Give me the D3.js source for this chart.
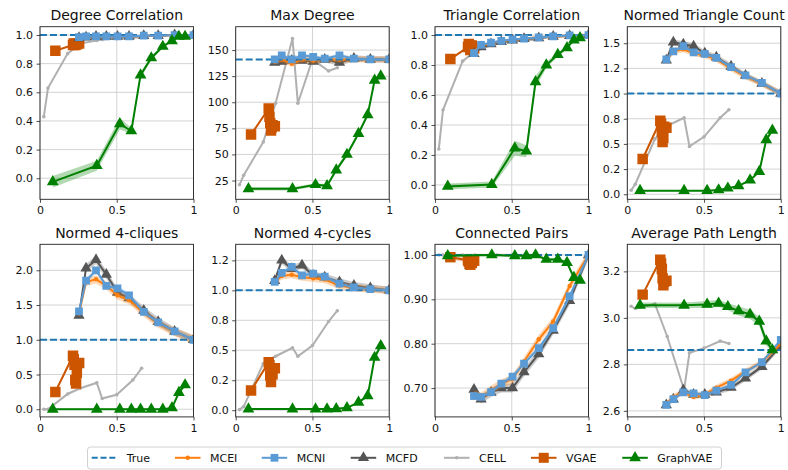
<!DOCTYPE html>
<html><head><meta charset="utf-8">
<script src="https://cdn.jsdelivr.net/npm/d3@7"></script>
<style>body{margin:0;background:#fff}svg{font-family:"DejaVu Sans",sans-serif}</style>
</head><body><svg id="c" width="788" height="470"></svg>
<script>
const titles = ["Degree Correlation","Max Degree","Triangle Correlation","Normed Triangle Count",
                "Normed 4-cliques","Normed 4-cycles","Connected Pairs","Average Path Length"];
const seriesNames = ["True","MCEI","MCNI","MCFD","CELL","VGAE","GraphVAE"];
const seriesColors = ["#1f77b4","#ff7f0e","#5b9bd5","#555555","#b0b0b0","#cc5500","#008000"];

const xTicks = [0, 0.5, 1];
const xTickLabels = ["0","0.5","1"];
const yDomains = [[-0.147,1.058],[7,172.4],[-0.096,1.056],[-0.05,1.664],
                  [-0.11,2.374],[-0.056,1.384],[0.635,1.024],[2.574,3.3165]];
const yTicks = [[0,0.2,0.4,0.6,0.8,1.0],[25,50,75,100,125,150],[0,0.2,0.4,0.6,0.8,1.0],
                [0,0.25,0.5,0.75,1.0,1.25,1.5],[0,0.5,1.0,1.5,2.0],[0,0.25,0.5,0.75,1.0,1.25],
                [0.7,0.8,0.9,1.0],[2.6,2.8,3.0,3.2]];
const yTickLabels = [["0.0","0.2","0.4","0.6","0.8","1.0"],["25","50","75","100","125","150"],
                     ["0.0","0.2","0.4","0.6","0.8","1.0"],["0.0","0.2","0.5","0.8","1.0","1.2","1.5"],
                     ["0.0","0.5","1.0","1.5","2.0"],["0.0","0.2","0.5","0.8","1.0","1.2"],
                     ["0.70","0.80","0.90","1.00"],["2.6","2.8","3.0","3.2"]];

const mcX   = [0.254,0.30,0.365,0.432,0.505,0.58,0.676,0.77,0.877,1.0];
const cellX = [0.025,0.052,0.18,0.26,0.37,0.405,0.50,0.605,0.662];
const vgaeX = [0.10,0.215,0.22,0.225,0.23,0.235,0.24,0.255];
const gvX   = [0.083,0.37,0.52,0.595,0.655,0.725,0.80,0.86,0.905,0.945];

const trueVals = [1.0,141,1.0,1.0,1.0,1.0,1.0,2.862];

const mceiVals = [
  [0.985,0.99,0.99,0.99,0.99,0.99,0.995,0.995,1.0,1.0],
  [139,141,137,141,140,141,141,141,141,141],
  [0.89,0.93,0.945,0.96,0.97,0.975,0.985,0.99,0.995,1.0],
  [1.33,1.42,1.44,1.40,1.38,1.34,1.25,1.17,1.10,1.0],
  [1.38,1.83,1.87,1.78,1.64,1.57,1.39,1.23,1.11,1.0],
  [1.07,1.12,1.13,1.11,1.10,1.09,1.04,1.02,1.01,1.0],
  [0.685,0.68,0.695,0.71,0.72,0.76,0.81,0.85,0.93,1.0],
  [2.63,2.66,2.68,2.66,2.67,2.70,2.73,2.77,2.81,2.89]];
const mcniVals = [
  [0.985,0.99,0.99,0.99,0.99,0.99,0.995,0.995,1.0,1.0],
  [141,145,141,145,143.6,141.7,145,141.7,141,141],
  [0.88,0.935,0.95,0.962,0.971,0.977,0.984,0.992,0.998,1.0],
  [1.34,1.42,1.47,1.41,1.395,1.355,1.262,1.18,1.106,1.0],
  [1.41,1.85,2.0,1.776,1.74,1.64,1.40,1.25,1.12,1.0],
  [1.07,1.145,1.195,1.125,1.14,1.115,1.055,1.025,1.01,1.0],
  [0.682,0.68,0.691,0.71,0.726,0.755,0.79,0.835,0.907,1.0],
  [2.626,2.65,2.68,2.675,2.668,2.687,2.712,2.766,2.81,2.905]];
const mcfdVals = [
  [0.98,0.985,0.99,0.99,0.99,0.99,0.995,0.995,1.0,1.0],
  [138,139,140,140,139,141,138,142,141,141],
  [0.875,0.92,0.94,0.955,0.965,0.975,0.98,0.99,0.995,1.0],
  [1.33,1.51,1.49,1.47,1.40,1.36,1.27,1.18,1.10,1.0],
  [1.35,2.03,2.15,1.94,1.68,1.60,1.42,1.26,1.12,1.0],
  [1.08,1.25,1.18,1.21,1.124,1.11,1.07,1.04,1.02,1.0],
  [0.697,0.675,0.69,0.70,0.70,0.736,0.777,0.83,0.897,1.0],
  [2.625,2.65,2.69,2.67,2.67,2.68,2.70,2.74,2.79,2.88]];
const cellVals = [
  [0.43,0.63,0.87,0.94,0.962,0.968,0.975,0.98,0.985],
  [21,30,62,99,161,99,141,130,133],
  [0.24,0.50,0.826,0.89,0.935,0.945,0.955,0.965,0.97],
  [0.04,0.10,0.55,0.68,0.76,0.475,0.57,0.76,0.84],
  [0.0,0.0,0.22,0.30,0.38,0.155,0.21,0.42,0.59],
  [0.005,0.03,0.39,0.45,0.52,0.45,0.54,0.74,0.83],
  [1.0,1.0,1.0,1.0,1.0,1.0,1.0,1.0,1.0],
  [3.05,3.04,3.06,2.92,2.69,2.85,2.87,2.90,2.89]];
const vgaeVals = [
  [0.89,0.93,0.94,0.935,0.93,0.94,0.935,0.94],
  [69,94,86,80,73,76,78,77],
  [0.84,0.92,0.94,0.93,0.90,0.92,0.93,0.91],
  [0.35,0.73,0.70,0.62,0.52,0.56,0.67,0.66],
  [0.25,0.77,0.72,0.64,0.42,0.37,0.52,0.665],
  [0.164,0.40,0.375,0.29,0.235,0.35,0.30,0.35],
  [0.995,0.988,0.985,0.98,0.978,0.985,0.982,0.987],
  [3.10,3.25,3.234,3.21,3.17,3.14,3.155,3.16]];
const gvVals = [
  [-0.025,0.088,0.38,0.33,0.72,0.84,0.92,0.96,0.99,0.99],
  [17,17,21,20,35,50,70,88,121,125],
  [-0.01,0.002,0.245,0.225,0.688,0.80,0.87,0.915,0.967,0.982],
  [0.036,0.036,0.036,0.043,0.06,0.083,0.14,0.226,0.54,0.635],
  [0,0,0,0,0,0,0,0.02,0.24,0.35],
  [0.01,0.01,0.01,0.01,0.012,0.02,0.065,0.12,0.44,0.537],
  [0.998,1.0,0.998,0.998,1.0,0.99,0.99,0.983,0.949,0.943],
  [3.054,3.054,3.058,3.063,3.048,3.03,3.015,2.985,2.90,2.862]];
const gvBand = [
  [0.04,0.035,0.04,0.02,0.02,0.015,0.01,0.01,0.005,0.005],
  [1.5,1.5,1.5,1.5,2,2,2,2,2,2],
  [0.02,0.02,0.05,0.04,0.04,0.02,0.015,0.01,0.005,0.005],
  [0.005,0.005,0.005,0.005,0.005,0.005,0.01,0.01,0.02,0.02],
  [0.01,0.01,0.01,0.01,0.01,0.01,0.01,0.01,0.02,0.02],
  [0.005,0.005,0.005,0.005,0.005,0.005,0.01,0.01,0.02,0.02],
  [0.002,0.002,0.002,0.002,0.002,0.003,0.003,0.004,0.006,0.006],
  [0.012,0.012,0.015,0.015,0.015,0.02,0.02,0.02,0.02,0.01]];
const mcBand = [0.006,3,0.01,0.03,0.06,0.03,0.01,0.012];

const svg = d3.select("#c");
const panelLeft = [40, 235.7, 435, 627.3];
const panelTop = [26.7, 244.3];
const pw = 153.5, ph = 172.6;

const defs = svg.append("defs");

for (let p = 0; p < 8; p++) {
  const col = p % 4, row = Math.floor(p / 4);
  const x0 = panelLeft[col], y0 = panelTop[row];
  const g = svg.append("g").attr("transform", `translate(${x0},${y0})`);
  const x = d3.scaleLinear().domain([0, 1]).range([0, pw]);
  const y = d3.scaleLinear().domain(yDomains[p]).range([ph, 0]);

  defs.append("clipPath").attr("id", "clip" + p).append("rect").attr("width", pw).attr("height", ph);

  // grid
  g.append("g").selectAll("line").data(xTicks).join("line")
    .attr("x1", d => x(d)).attr("x2", d => x(d)).attr("y1", 0).attr("y2", ph)
    .attr("stroke", "#d3d3d3").attr("stroke-width", 1);
  g.append("g").selectAll("line").data(yTicks[p]).join("line")
    .attr("y1", d => y(d)).attr("y2", d => y(d)).attr("x1", 0).attr("x2", pw)
    .attr("stroke", "#d3d3d3").attr("stroke-width", 1);

  // axes
  const xa = g.append("g").attr("transform", `translate(0,${ph})`)
    .call(d3.axisBottom(x).tickValues(xTicks).tickFormat((d, i) => xTickLabels[i]).tickSizeOuter(0).tickSize(3.5).tickPadding(3.5));
  const ya = g.append("g")
    .call(d3.axisLeft(y).tickValues(yTicks[p]).tickFormat((d, i) => yTickLabels[p][i]).tickSizeOuter(0).tickSize(3.5).tickPadding(3.5));
  [xa, ya].forEach(a => {
    a.select(".domain").remove();
    a.selectAll("text").attr("font-size", 11).attr("fill", "#111").attr("font-family", "DejaVu Sans");
    a.selectAll("line").attr("stroke", "#222").attr("stroke-width", 0.8);
  });

  const plot = g.append("g").attr("clip-path", `url(#clip${p})`);
  const line = d3.line().x(d => x(d[0])).y(d => y(d[1]));
  const area = d3.area().x(d => x(d[0])).y0(d => y(d[1] - d[2])).y1(d => y(d[1] + d[2]));

  function series(xs, vals, band, color, marker, msize, lw) {
    const pts = xs.map((v, i) => [v, vals[i], band ? band[i] : 0]);
    if (band) plot.append("path").datum(pts).attr("d", area).attr("fill", color).attr("opacity", 0.3);
    plot.append("path").datum(pts).attr("d", line).attr("fill", "none").attr("stroke", color).attr("stroke-width", lw);
    if (marker === "circle") {
      plot.append("g").selectAll("circle").data(pts).join("circle")
        .attr("cx", d => x(d[0])).attr("cy", d => y(d[1])).attr("r", msize).attr("fill", color);
    } else if (marker) {
      plot.append("g").selectAll("path").data(pts).join("path")
        .attr("transform", d => `translate(${x(d[0])},${y(d[1])})`)
        .attr("d", d3.symbol().type(marker).size(msize)).attr("fill", color);
    }
  }
  const cb = v => v.map(() => mcBand[p]);
  series(cellX, cellVals[p], cellVals[p].map(() => mcBand[p] * 0.3), seriesColors[4], "circle", 1.8, 2);
  series(vgaeX, vgaeVals[p], vgaeVals[p].map(() => mcBand[p] * 0.5), seriesColors[5], d3.symbolSquare, 110, 2);
  series(mcX, mcfdVals[p], cb(mcfdVals[p]), seriesColors[3], d3.symbolTriangle, 55, 2);
  series(mcX, mceiVals[p], cb(mceiVals[p]), seriesColors[1], "circle", 2.2, 2);
  // True line
  plot.append("line").attr("x1", x(0)).attr("x2", x(1)).attr("y1", y(trueVals[p])).attr("y2", y(trueVals[p]))
    .attr("stroke", seriesColors[0]).attr("stroke-width", 2).attr("stroke-dasharray", "7,3");
  series(mcX, mcniVals[p], cb(mcniVals[p]).map(v => v * 0.6), seriesColors[2], d3.symbolSquare, 60, 2);
  series(gvX, gvVals[p], gvBand[p], seriesColors[6], d3.symbolTriangle, 60, 2);

  // frame
  g.append("rect").attr("width", pw).attr("height", ph).attr("fill", "none").attr("stroke", "#222").attr("stroke-width", 0.9);

  // title
  g.append("text").attr("x", pw / 2).attr("y", -6.5).attr("text-anchor", "middle")
    .attr("font-size", 14).attr("fill", "#111").text(titles[p]);
}

// legend
const lg = svg.append("g");
lg.append("rect").attr("x", 87.5).attr("y", 447).attr("width", 634).attr("height", 22).attr("rx", 3)
  .attr("fill", "#fff").attr("stroke", "#d0d0d0").attr("stroke-width", 1);
const legLineX = [91.7, 175, 261.7, 350.7, 444, 531, 622.3];
const markers = [null, "circle", d3.symbolSquare, d3.symbolTriangle, "circle", d3.symbolSquare, d3.symbolTriangle];
const msizes = [0, 2.2, 60, 55, 1.8, 100, 60];
const ly = 457.8;
seriesNames.forEach((name, i) => {
  const lx = legLineX[i];
  const ln = lg.append("line").attr("x1", lx).attr("x2", lx + 25.5).attr("y1", ly).attr("y2", ly)
    .attr("stroke", seriesColors[i]).attr("stroke-width", 2);
  if (i === 0) ln.attr("stroke-dasharray", "6,2.8");
  const m = markers[i];
  if (m === "circle") lg.append("circle").attr("cx", lx + 12.75).attr("cy", ly).attr("r", msizes[i]).attr("fill", seriesColors[i]);
  else if (m) lg.append("path").attr("transform", `translate(${lx + 12.75},${ly})`)
    .attr("d", d3.symbol().type(m).size(msizes[i])).attr("fill", seriesColors[i]);
  lg.append("text").attr("x", lx + 35).attr("y", ly + 4).attr("font-size", 11).attr("fill", "#111").text(name);
});
</script></body></html>
